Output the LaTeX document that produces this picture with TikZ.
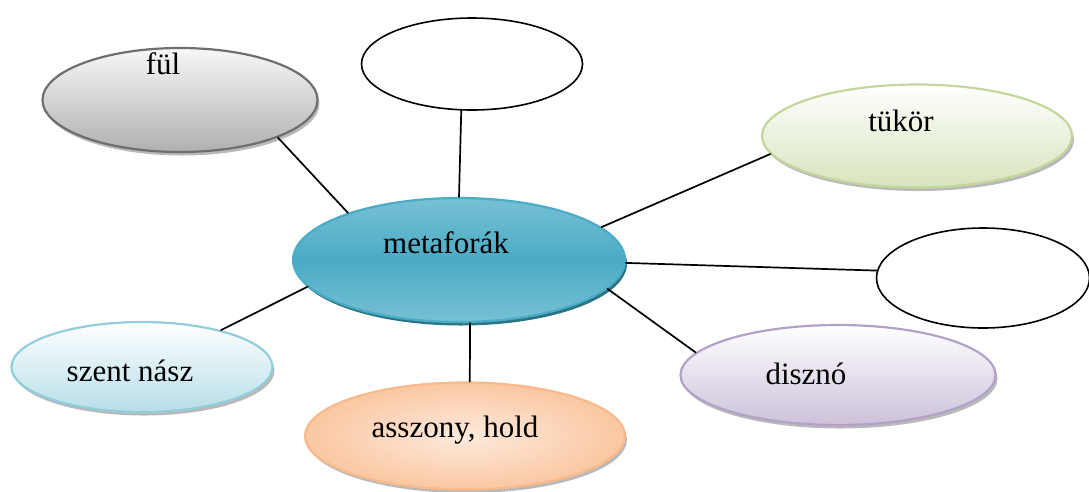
\documentclass[tikz,border=0pt]{standalone}
\usepackage{fontspec}
\setmainfont{Liberation Serif}
\usetikzlibrary{shapes.geometric, shadows}

\definecolor{fulline}{HTML}{6E6E6E}
\definecolor{tukline}{HTML}{C3D69B}
\definecolor{tukfill}{HTML}{D7E4BD}
\definecolor{metaline}{HTML}{4BACC6}
\definecolor{metamid}{HTML}{4AABC5}
\definecolor{metalight}{HTML}{93CDDD}
\definecolor{metadark}{HTML}{2B7385}
\definecolor{szentline}{HTML}{92CDDC}
\definecolor{szentfill}{HTML}{B7DEE8}
\definecolor{diszline}{HTML}{B3A2C7}
\definecolor{diszfill}{HTML}{CCC1DA}
\definecolor{asszline}{HTML}{F9B98A}
\definecolor{asszfill}{HTML}{FDEADC}

% Light at top and bottom, dark in the middle.
\pgfdeclareverticalshading{metashade}{100bp}{%
    color(0bp)=(metalight); color(22bp)=(metalight!70!metamid);
    color(50bp)=(metamid); color(78bp)=(metalight!70!metamid);
    color(100bp)=(metalight)}

\begin{document}
\begin{tikzpicture}[%
        x = 1pt,
        y = -1pt,
        line width = 1.7pt,
        line cap = round,
        bubble/.style = {ellipse, inner sep = 0pt, line width = 2.2pt},
        shade/.style = {drop shadow = {shadow xshift = 2pt, shadow yshift = -3.5pt,
                        fill = #1, opacity = 1}},
        shade/.default = gray!55,
        word/.style = {font = \fontsize{31}{36}\selectfont, inner sep = 0pt}
    ]

        % Fix the size of the page.
        \useasboundingbox (0, 0) rectangle (1089, 491);

        % The centre bubble.
        \node (meta) [bubble, shade = metadark, draw = metaline, shading = metashade,
            minimum width = 332pt, minimum height = 124pt] at (459, 260) {};

        % The outer bubbles.
        \node (ful) [bubble, shade, draw = fulline,
            top color = gray!6, bottom color = gray!62,
            minimum width = 275pt, minimum height = 104pt] at (180, 100) {};
        \node (topblank) [bubble, draw = black, fill = white, line width = 1.6pt,
            minimum width = 221pt, minimum height = 92pt] at (472, 64) {};
        \node (tukor) [bubble, shade, draw = tukline,
            top color = white, bottom color = tukfill,
            minimum width = 310pt, minimum height = 103pt] at (917, 136) {};
        \node (rightblank) [bubble, draw = black, fill = white, line width = 1.6pt,
            minimum width = 213pt, minimum height = 100pt] at (983, 278) {};
        \node (disz) [bubble, shade, draw = diszline,
            top color = white, bottom color = diszfill,
            minimum width = 315pt, minimum height = 100pt] at (838, 375) {};
        \node (assz) [bubble, shade, draw = asszline,
            inner color = asszfill, outer color = asszline!80,
            minimum width = 320pt, minimum height = 107pt] at (465, 436) {};
        \node (szent) [bubble, shade, draw = szentline,
            top color = white, bottom color = szentfill,
            minimum width = 261pt, minimum height = 90pt] at (142, 367) {};

        % The words in the bubbles.
        \node (metatext) [word] at (446, 243) {metaforák};
        \node (fultext) [word] at (163, 64) {fül};
        \node (tukortext) [word] at (901, 121) {tükör};
        \node (disztext) [word] at (806, 374) {disznó};
        \node (assztext) [word] at (455, 430) {asszony, hold};
        \node (szenttext) [word] at (130, 371) {szent nász};

        % Lines from the centre to each bubble.
        \draw (meta.157.5) to (ful.-21.8);
        \draw (meta.90) to (topblank.-103);
        \draw (meta.13.3) to (tukor.187);
        \draw (meta.-1.4) to (rightblank.176);
        \draw (meta.-11.8) to (disz.171.4);
        \draw (meta.-80) to (assz.85);
        \draw (meta.190) to (szent.25.5);
    \end{tikzpicture}
\end{document}
